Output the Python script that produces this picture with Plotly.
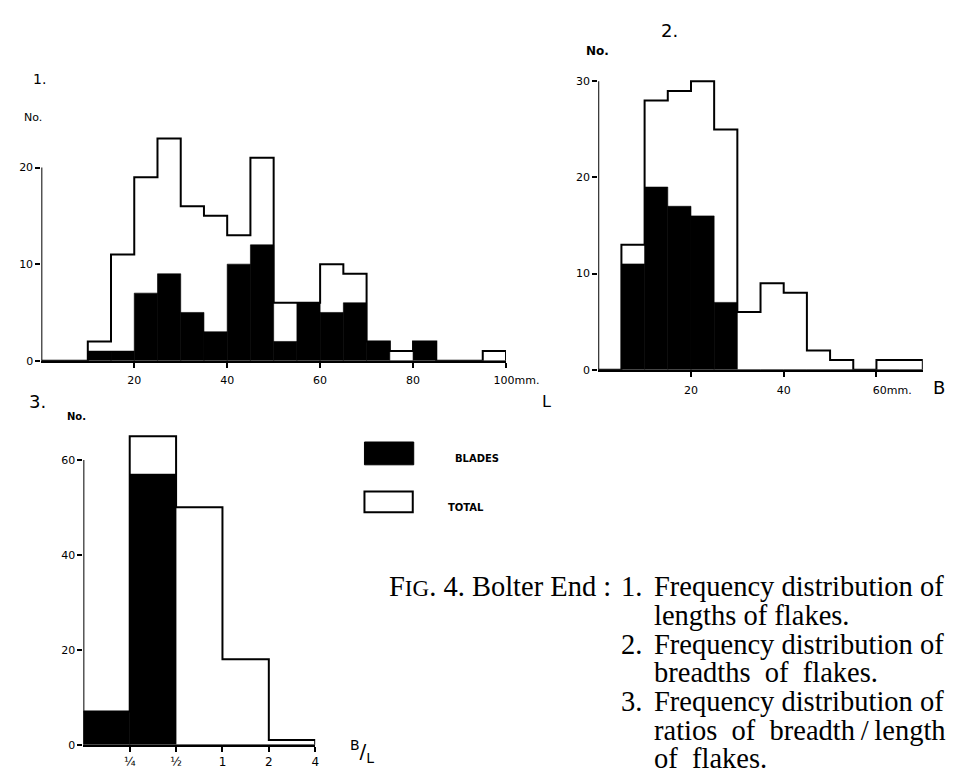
import plotly.graph_objects as go

W, H = 971, 769

# ---------------- data ----------------
# 1. lengths of flakes (mm), 5 mm bins
len_edges = [0, 5, 10, 15, 20, 25, 30, 35, 40, 45, 50, 55, 60, 65, 70, 75, 80, 85, 90, 95, 100]
len_total = [0, 0, 2, 11, 19, 23, 16, 15, 13, 21, 6, 6, 10, 9, 2, 1, 2, 0, 0, 1]
len_blades = [0, 0, 1, 1, 7, 9, 5, 3, 10, 12, 2, 6, 5, 6, 2, 0, 2, 0, 0, 0]
len_xticks = [20, 40, 60, 80, 100]
len_xticktext = ["20", "40", "60", "80", "\u00a0" * 6 + "100mm."]
len_yticks = [0, 10, 20]

# 2. breadths of flakes (mm), 5 mm bins
br_edges = [0, 5, 10, 15, 20, 25, 30, 35, 40, 45, 50, 55, 60, 65, 70]
br_total = [0, 13, 28, 29, 30, 25, 6, 9, 8, 2, 1, 0, 1, 1]
br_blades = [0, 11, 19, 17, 16, 7, 0, 0, 0, 0, 0, 0, 0, 0]
br_xticks = [20, 40, 60]
br_xticktext = ["20", "40", "\u00a0" * 9 + "60mm."]
br_yticks = [0, 10, 20, 30]

# 3. ratios breadth/length, bins <1/4, 1/4-1/2, 1/2-1, 1-2, 2-4
ratio_bounds = ["\u00bc", "\u00bd", "1", "2", "4"]
ratio_total = [7, 65, 50, 18, 1]
ratio_blades = [7, 57, 0, 0, 0]
ratio_yticks = [0, 20, 40, 60]

# ---------------- helpers ----------------
def px(x):
    return x / W


def py(y):
    return 1 - y / H


def centers(edges):
    return [(a + b) / 2 for a, b in zip(edges[:-1], edges[1:])]


def widths(edges):
    return [b - a for a, b in zip(edges[:-1], edges[1:])]


ratio_edges = list(range(len(ratio_bounds) + 1))

fig = go.Figure()

panels = [
    ("x", "y", len_edges, len_total, len_blades, len_yticks),
    ("x2", "y2", br_edges, br_total, br_blades, br_yticks),
    ("x3", "y3", ratio_edges, ratio_total, ratio_blades, ratio_yticks),
]

for xa, ya, edges, total, blades, yt in panels:
    fig.add_trace(go.Bar(
        x=centers(edges), y=blades, width=widths(edges),
        marker=dict(color="black", line=dict(color="black", width=0.6)),
        xaxis=xa, yaxis=ya, showlegend=False, hoverinfo="skip",
    ))
    fig.add_trace(go.Scatter(
        x=edges, y=total + [0], mode="lines", line_shape="hv",
        line=dict(color="black", width=2),
        xaxis=xa, yaxis=ya, showlegend=False, hoverinfo="skip",
    ))
    # vertical axis line from 0 up to the top tick
    fig.add_trace(go.Scatter(
        x=[edges[0], edges[0]], y=[yt[0], yt[-1]], mode="lines",
        line=dict(color="black", width=2),
        xaxis=xa, yaxis=ya, showlegend=False, hoverinfo="skip",
    ))

tickfont = dict(family="DejaVu Sans", size=11, color="black")

common_x = dict(showline=True, linewidth=2, linecolor="black", ticks="outside",
                ticklen=5, tickwidth=1.5, tickcolor="black", showgrid=False,
                zeroline=False, tickfont=tickfont, fixedrange=True)
common_y = dict(showline=False, ticks="outside", ticklen=5, tickwidth=1.5,
                tickcolor="black", showgrid=False, zeroline=False,
                tickfont=tickfont, fixedrange=True)

fig.update_layout(
    width=W, height=H,
    margin=dict(l=0, r=0, t=0, b=0),
    paper_bgcolor="white", plot_bgcolor="white",
    barmode="overlay",
    xaxis=dict(common_x, domain=[px(34.5), px(515.5)], range=[0, 100],
               tickvals=len_xticks, ticktext=len_xticktext, anchor="y",
               ticklabelstandoff=3),
    yaxis=dict(common_y, domain=[py(356), py(112.25)], range=[0, 25],
               tickvals=len_yticks, anchor="x"),
    xaxis2=dict(common_x, domain=[px(611), px(947)], range=[0, 70],
                tickvals=br_xticks, ticktext=br_xticktext, anchor="y2",
                ticklabelstandoff=4),
    yaxis2=dict(common_y, domain=[py(365), py(54.6)], range=[0, 32],
                tickvals=br_yticks, anchor="x2"),
    xaxis3=dict(common_x, domain=[px(78), px(318)], range=[0, 5],
                tickvals=ratio_edges[1:], ticktext=ratio_bounds, anchor="y3",
                ticklabelstandoff=0,
                tickfont=dict(family="DejaVu Sans", size=12, color="black")),
    yaxis3=dict(common_y, domain=[py(743.5), py(417.7)], range=[0, 68],
                tickvals=ratio_yticks, anchor="x3"),
)

# ---------------- legend (drawn) ----------------
fig.add_shape(type="rect", xref="paper", yref="paper",
              x0=px(369), x1=px(420), y0=py(461), y1=py(438),
              fillcolor="black", line=dict(color="black", width=1))
fig.add_shape(type="rect", xref="paper", yref="paper",
              x0=px(369), x1=px(419), y0=py(509), y1=py(488),
              fillcolor="white", line=dict(color="black", width=2))


def label(text, x, y, size, family="DejaVu Sans", xanchor="center", weight="normal"):
    fig.add_annotation(text=text, x=px(x), y=py(y), xref="paper", yref="paper",
                       showarrow=False, xanchor=xanchor, yanchor="middle",
                       font=dict(family=family, size=size, color="black", weight=weight))


label("BLADES", 485, 455, 10, weight="bold")
label("TOTAL", 474, 504, 10, weight="bold")

# panel numbers and axis labels
label("1.", 33, 72, 14)
label("No.", 26, 111, 11)
label("L", 557, 397, 16)

label("2.", 685, 23, 18)
label("No.", 610, 43, 12, weight="bold")
label("B", 964, 383, 18)

label("3.", 31, 397, 18)
label("No.", 71, 412, 10, weight="bold")
label("<sup>B</sup>/<sub>L</sub>", 366, 750, 20)

# ---------------- caption ----------------
cap = dict(family="Liberation Serif", size=28.5, color="black")


def cap_line(text, x, y, xanchor="left"):
    fig.add_annotation(text=text, x=px(x), y=py(y), xref="paper", yref="paper",
                       showarrow=False, xanchor=xanchor, yanchor="middle",
                       font=cap)


nb = "\u00a0"
th = "\u2009"
y0, dy = 584, 29
cap_line("F<span style='font-size:23px'>IG</span>. 4. Bolter End :", 626, y0, xanchor="right")
cap_line("1.", 632, y0)
cap_line("Frequency distribution of", 667, y0)
cap_line("lengths of flakes.", 667, y0 + dy)
cap_line("2.", 632, y0 + 2 * dy)
cap_line("Frequency distribution of", 667, y0 + 2 * dy)
cap_line("breadths" + nb * 2 + "of" + nb * 2 + "flakes.", 667, y0 + 3 * dy)
cap_line("3.", 632, y0 + 4 * dy)
cap_line("Frequency distribution of", 667, y0 + 4 * dy)
cap_line("ratios" + nb * 2 + "of" + nb * 2 + "breadth" + th + "/" + th + "length", 667, y0 + 5 * dy)
cap_line("of" + nb * 2 + "flakes.", 667, y0 + 6 * dy - 1)

fig.write_html("out.html")
